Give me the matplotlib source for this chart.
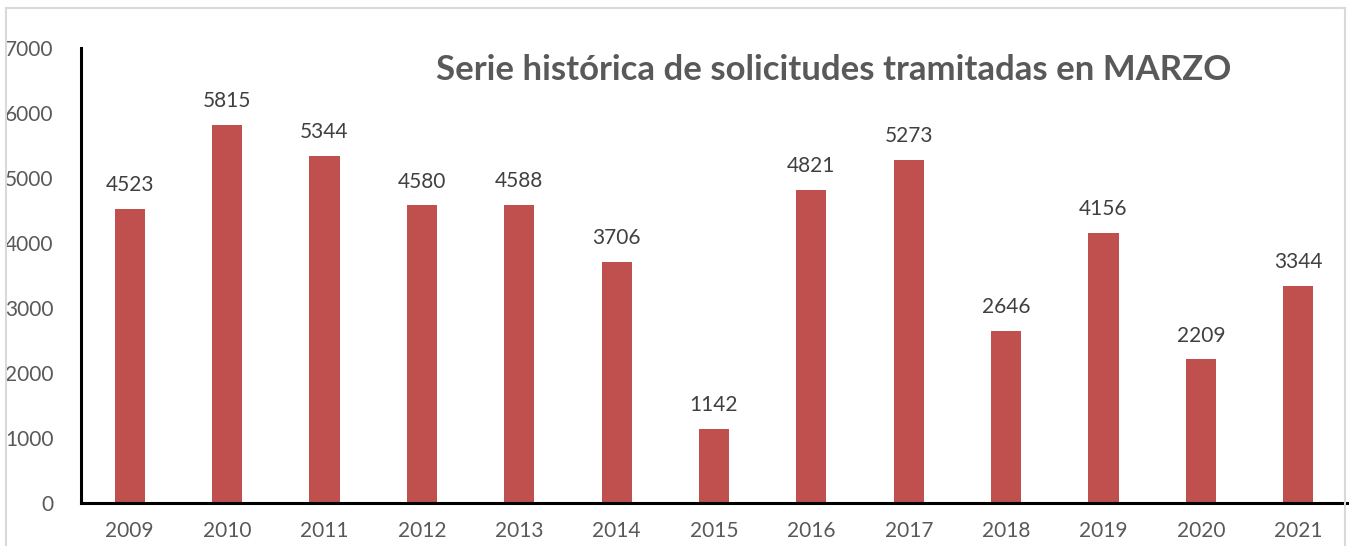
import matplotlib.pyplot as plt
from matplotlib.lines import Line2D

years = ['2009', '2010', '2011', '2012', '2013', '2014', '2015',
         '2016', '2017', '2018', '2019', '2020', '2021']
solicitudes = [4523, 5815, 5344, 4580, 4588, 3706, 1142,
               4821, 5273, 2646, 4156, 2209, 3344]
yticks = [0, 1000, 2000, 3000, 4000, 5000, 6000, 7000]

plt.rcParams['font.family'] = ['Lato', 'DejaVu Sans']

fig = plt.figure(figsize=(13.51, 5.46), dpi=100)
ax = fig.add_axes([0.06, 0.0788, 0.937, 0.833])

x = range(len(years))
bars = ax.bar(x, solicitudes, width=0.31, color='#C0504D')
for b, v in zip(bars, solicitudes):
    ax.annotate(str(v), (b.get_x() + b.get_width() / 2, v), xytext=(0, 10),
                textcoords='offset points', ha='center', va='bottom',
                fontsize=15, color='#404040')

ax.set_xlim(-0.5, len(years) - 0.5)
ax.set_ylim(0, 7000)
ax.set_xticks(list(x))
ax.set_xticklabels(years)
ax.set_yticks(yticks)
ax.tick_params(axis='both', length=0, labelsize=15, labelcolor='#595959')
ax.tick_params(axis='y', pad=20)
ax.tick_params(axis='x', pad=13)
for s in ['top', 'right']:
    ax.spines[s].set_visible(False)
for s in ['left', 'bottom']:
    ax.spines[s].set_linewidth(2.2)
    ax.spines[s].set_color('black')

fig.text(834 / 1351, 1 - 70 / 546, 'Serie histórica de solicitudes tramitadas en MARZO',
         ha='center', va='center', fontsize=25, fontweight='bold', color='#595959')

# light frame around the chart
W, H = 1351, 546
frame = [((6, 6), (H - 8, 0)), ((6, 1345), (H - 8, H - 8)), ((1345, 1345), (H - 8, 0))]
for xs, ys in frame:
    fig.add_artist(Line2D([xs[0] / W, xs[1] / W], [ys[0] / H, ys[1] / H],
                          transform=fig.transFigure, color='#D9D9D9', lw=1.5))

fig.savefig('out.png', dpi=100)
